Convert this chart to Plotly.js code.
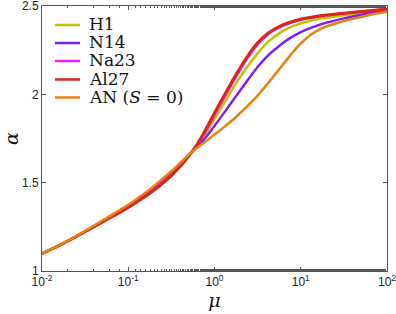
<!DOCTYPE html>
<html>
<head>
<meta charset="utf-8">
<script src="https://cdn.plot.ly/plotly-3.0.1.min.js"></script>
<style>html,body{margin:0;padding:0;background:#fff;}#chart{width:396px;height:314px;}</style>
</head>
<body>
<div id="chart"></div>
<script>
const mu = [0.01, 0.01778, 0.03162, 0.05623, 0.1, 0.1778, 0.3162, 0.5495, 0.7499, 1, 1.334, 1.778, 2.371, 3.162, 4.217, 5.623, 7.499, 10, 13.34, 17.78, 31.62, 56.23, 100];
const seriesNames = ["H1", "N14", "Na23", "Al27", "AN (<i>S</i> = 0)"];
const alphaH1   = [1.098, 1.157, 1.224, 1.294, 1.366, 1.450, 1.553, 1.675, 1.762, 1.860, 1.962, 2.062, 2.152, 2.232, 2.298, 2.345, 2.379, 2.402, 2.418, 2.430, 2.447, 2.463, 2.480];
const alphaN14  = [1.098, 1.158, 1.225, 1.297, 1.370, 1.455, 1.560, 1.674, 1.743, 1.822, 1.905, 1.990, 2.074, 2.155, 2.222, 2.274, 2.318, 2.352, 2.378, 2.399, 2.430, 2.455, 2.478];
const alphaNa23 = [1.098, 1.157, 1.223, 1.292, 1.363, 1.445, 1.545, 1.675, 1.772, 1.883, 1.993, 2.100, 2.200, 2.283, 2.342, 2.379, 2.404, 2.422, 2.434, 2.444, 2.458, 2.470, 2.482];
const alphaAl27 = [1.098, 1.157, 1.222, 1.290, 1.360, 1.440, 1.540, 1.675, 1.780, 1.895, 2.005, 2.112, 2.210, 2.292, 2.348, 2.384, 2.408, 2.425, 2.437, 2.446, 2.459, 2.471, 2.483];
const alphaAN   = [1.098, 1.158, 1.227, 1.300, 1.375, 1.462, 1.565, 1.674, 1.725, 1.772, 1.820, 1.872, 1.930, 1.993, 2.066, 2.142, 2.218, 2.288, 2.340, 2.375, 2.415, 2.444, 2.467];
const xTickVals = [0.01, 0.1, 1, 10, 100];
const xTickText = ["10<sup>-2</sup>", "10<sup>-1</sup>", "10<sup>0</sup>", "10<sup>1</sup>", "10<sup>2</sup>"];
const yTickVals = [1, 1.5, 2, 2.5];
const yTickText = ["1", "1.5", "2", "2.5"];
const colors = ["#c2c200", "#7b1ff2", "#ff1aff", "#d8261a", "#e8820e"];
const allAlpha = [alphaH1, alphaN14, alphaNa23, alphaAl27, alphaAN];

const traces = allAlpha.map((a, i) => ({
  x: mu, y: a, type: "scatter", mode: "lines", name: seriesNames[i], showlegend: false,
  line: {color: colors[i], width: i === 3 ? 3 : 2.5, shape: "spline", smoothing: 0.9}
}));

// plot-area geometry (pixels) for the hand-made legend
const W = 396, H = 314, mL = 42, mR = 9, mT = 6, mB = 43;
const pw = W - mL - mR, ph = H - mT - mB;
const px2x = p => (p - mL) / pw;
const py2y = p => 1 - (p - mT) / ph;
const legendRows = [25, 43, 61, 79.5, 97.5];

const shapes = [], annotations = [];
seriesNames.forEach((n, i) => {
  shapes.push({type: "line", xref: "paper", yref: "paper",
    x0: px2x(55), x1: px2x(80), y0: py2y(legendRows[i]), y1: py2y(legendRows[i]),
    line: {color: colors[i], width: 2.5}});
  annotations.push({xref: "paper", yref: "paper", x: px2x(87), y: py2y(legendRows[i] - 1),
    xanchor: "left", yanchor: "middle", showarrow: false, text: n, height: 17,
    font: {family: "DejaVu Serif", size: 17, color: "#111"}});
});

const axisCommon = {
  showline: true, linecolor: "#555", linewidth: 1, mirror: "allticks",
  ticks: "inside", ticklen: 4, tickcolor: "#555", showgrid: false, zeroline: false,
  ticklabeloverflow: "allow",
  tickfont: {family: "Liberation Sans, Arial, sans-serif", size: 12, color: "#222"}
};

const layout = {
  width: W, height: H,
  margin: {l: mL, r: mR, t: mT, b: mB},
  paper_bgcolor: "#fff", plot_bgcolor: "#fff",
  showlegend: false,
  shapes: shapes, annotations: annotations,
  xaxis: Object.assign({}, axisCommon, {
    type: "log", range: [-2.0002, 2.0002], tickvals: xTickVals, ticktext: xTickText,
    minor: {ticks: "inside", ticklen: 2, tickcolor: "#555", showgrid: false},
    title: {text: "<i>μ</i>", font: {family: "DejaVu Serif", size: 19, color: "#111"}, standoff: 2}
  }),
  yaxis: Object.assign({}, axisCommon, {
    range: [0.9999, 2.5001], tickvals: yTickVals, ticktext: yTickText,
    title: {text: "<i>α</i>", font: {family: "DejaVu Serif", size: 19, color: "#111"}, standoff: 6}
  })
};

Plotly.newPlot("chart", traces, layout, {displayModeBar: false, staticPlot: true});
</script>
</body>
</html>
